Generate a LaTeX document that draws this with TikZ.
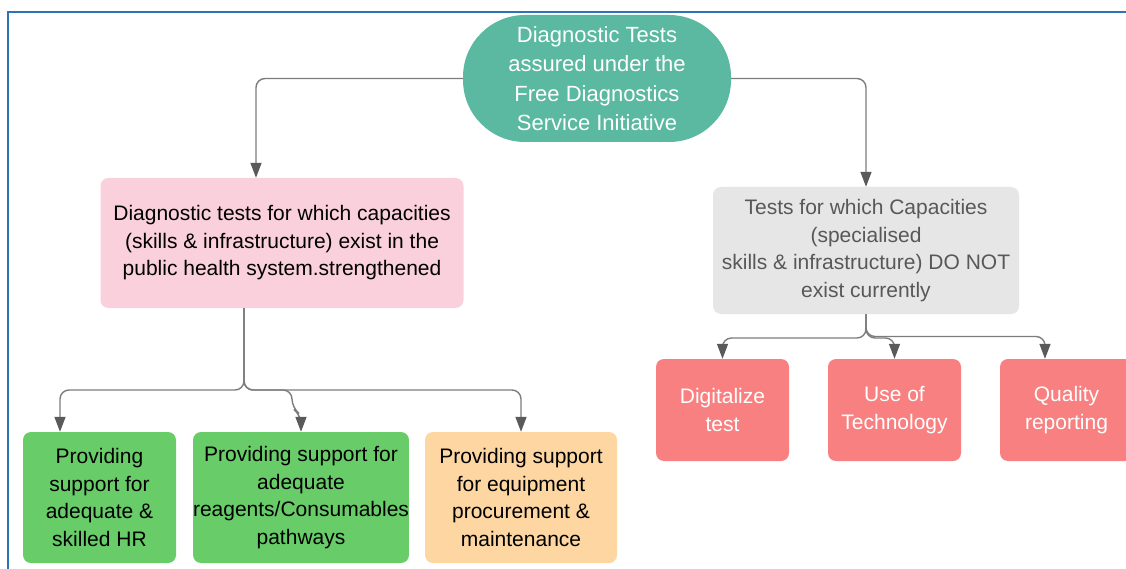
\documentclass[tikz,border=0pt]{standalone}
\usepackage{fontspec}
\setmainfont{Liberation Sans}
\usetikzlibrary{arrows.meta,calc}

\definecolor{headteal}{RGB}{90,185,160}
\definecolor{existpink}{RGB}{249,208,220}
\definecolor{notgray}{RGB}{230,230,230}
\definecolor{notgraytext}{RGB}{88,88,88}
\definecolor{supgreen}{RGB}{104,204,104}
\definecolor{suporange}{RGB}{253,214,162}
\definecolor{newred}{RGB}{249,128,128}
\definecolor{linkgray}{RGB}{125,125,125}
\definecolor{tipgray}{RGB}{90,90,90}
\definecolor{framebl}{RGB}{46,116,181}

\begin{document}
\begin{tikzpicture}[x=1pt,y=-1pt,
	box/.style={rectangle, rounded corners=8pt, inner sep=0pt, align=center, font=\fontsize{21}{27.5}\selectfont},
	link/.style={draw=linkgray, line width=1.4pt, rounded corners=9pt, -{Triangle[width=11pt,length=15pt,color=tipgray]}}]
		\useasboundingbox (0,0) rectangle (1126,569);
		\clip (0,0) rectangle (1126,569);
		\fill[white] (0,0) rectangle (1126,569);
		\draw[draw=framebl, line width=2.6pt] (8,12) rectangle (1150,600);

		\draw (597,78.5) node[box, rounded corners=62pt, fill=headteal, text=white, minimum width=268pt, minimum height=127pt, font=\fontsize{22}{29.5}\selectfont](diag){Diagnostic Tests\\assured under the\\Free Diagnostics\\Service Initiative};
		\draw (282,243) node[box, fill=existpink, minimum width=363pt, minimum height=130pt](exist){Diagnostic tests for which capacities\\(skills \& infrastructure) exist in the\\public health system.strengthened};
		\draw (866,250.5) node[box, fill=notgray, text=notgraytext, minimum width=306pt, minimum height=127pt](notexist){Tests for which Capacities\\(specialised\\skills \& infrastructure) DO NOT\\exist currently};

		\draw (99.5,497.5) node[box, fill=supgreen, minimum width=153pt, minimum height=131pt](hr){Providing\\support for\\adequate \&\\skilled HR};
		\draw (301,497.5) node[box, fill=supgreen, minimum width=210pt, minimum height=131pt](reag){Providing support for\\adequate\\reagents/Consumables\\pathways};
		\draw (521,497.5) node[box, fill=suporange, minimum width=192pt, minimum height=131pt](equip){Providing support\\for equipment\\procurement \&\\maintenance};

		\draw (722.5,410) node[box, fill=newred, text=white, minimum width=133pt, minimum height=102pt](digi){Digitalize\\test};
		\draw (894.5,410) node[box, fill=newred, text=white, minimum width=133pt, minimum height=102pt](tech){Use of\\Technology};
		\draw (1066.5,410) node[box, fill=newred, text=white, minimum width=133pt, minimum height=102pt](qual){Quality\\reporting};

		% top level
		\draw[link] (diag.west) -| ([xshift=-26pt]exist.north);
		\draw[link] (diag.east) -| (notexist.north);

		% left branch
		\coordinate (ej) at (244,390);
		\draw[link] (exist.south -| ej) |- (ej) -| ([xshift=-39.5pt]hr.north);
		\draw[link] (exist.south -| ej) |- (292,390) -- (292,408) -- (301,415) -- (reag.north);
		\draw[link] (exist.south -| ej) |- (ej) -| (equip.north);

		% right branch
		\coordinate (nj) at (866,338);
		\draw[link] (notexist.south) |- (nj) -| (digi.north);
		\draw[link] (notexist.south) |- (nj) -| (tech.north);
		\draw[link] (notexist.south) |- ([yshift=1.5pt]nj) -| ([xshift=-21.5pt]qual.north);

	\end{tikzpicture}
\end{document}
